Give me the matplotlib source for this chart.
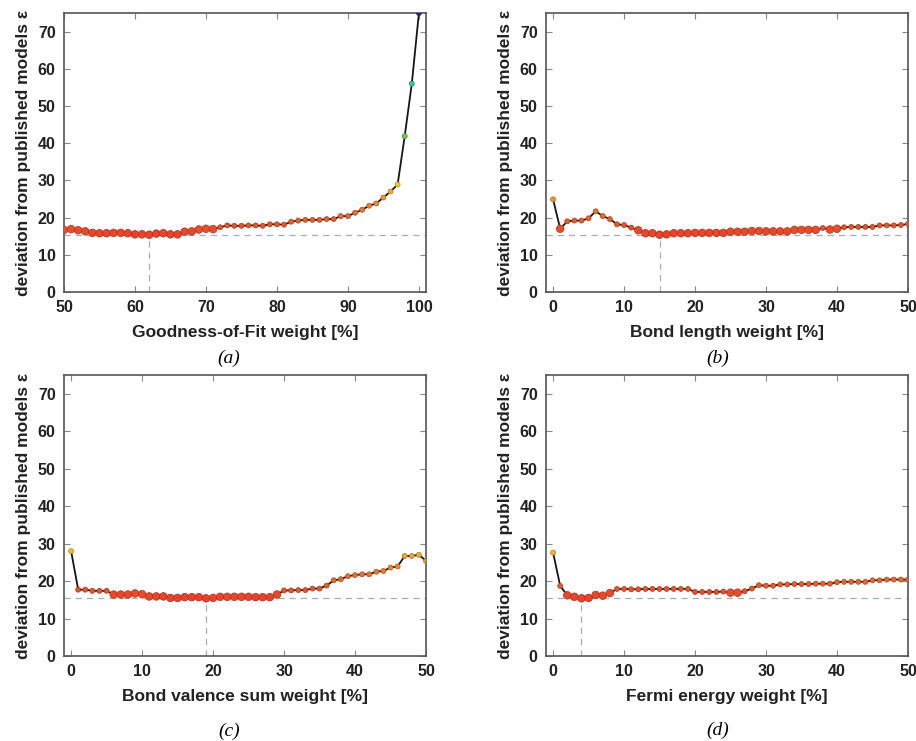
import numpy as np
import matplotlib
matplotlib.use("Agg")
import matplotlib.pyplot as plt
from matplotlib.colors import LinearSegmentedColormap, Normalize

# Weights [%] for each panel
gof_x = list(range(50, 101))
bond_x = list(range(0, 51))
bvs_x = list(range(0, 51))
fermi_x = list(range(0, 51))

# Deviation from published models
gof_y = [
    16.7, 16.9, 16.6, 16.3, 15.9, 15.8, 15.8, 15.9, 15.9, 15.8,
    15.5, 15.5, 15.4, 15.7, 15.8, 15.5, 15.5, 16.2, 16.3, 16.8,
    17.0, 16.9, 17.4, 17.9, 17.8, 17.8, 17.9, 17.9, 17.8, 18.2,
    18.2, 18.1, 18.9, 19.2, 19.4, 19.4, 19.4, 19.6, 19.6, 20.4,
    20.4, 21.3, 22.1, 23.2, 23.8, 25.4, 27.0, 28.9, 41.9, 56.0,
    75.0,
]
bond_y = [
    24.9, 17.0, 19.0, 19.2, 19.2, 19.8, 21.7, 20.4, 19.6, 18.2,
    18.0, 17.3, 16.6, 15.8, 15.8, 15.4, 15.5, 15.8, 15.8, 15.8,
    15.9, 15.9, 15.9, 15.9, 15.9, 16.2, 16.2, 16.2, 16.4, 16.4,
    16.3, 16.3, 16.3, 16.3, 16.7, 16.7, 16.7, 16.7, 17.2, 16.8,
    17.0, 17.4, 17.5, 17.5, 17.5, 17.5, 17.9, 17.9, 17.9, 18.0,
    18.3,
]
bvs_y = [
    28.0, 17.7, 17.7, 17.4, 17.4, 17.4, 16.4, 16.4, 16.4, 16.7,
    16.5, 15.9, 15.9, 15.9, 15.5, 15.5, 15.7, 15.7, 15.7, 15.4,
    15.5, 15.8, 15.8, 15.8, 15.8, 15.8, 15.7, 15.7, 15.7, 16.4,
    17.5, 17.5, 17.6, 17.6, 18.0, 18.0, 18.8, 20.2, 20.5, 21.3,
    21.6, 21.8, 21.8, 22.5, 22.7, 23.6, 23.9, 26.7, 26.7, 27.0,
    25.4,
]
fermi_y = [
    27.6, 18.7, 16.2, 15.8, 15.4, 15.5, 16.3, 16.1, 16.8, 17.9,
    17.9, 17.8, 17.8, 17.9, 17.9, 17.9, 17.9, 17.9, 17.9, 17.9,
    17.1, 17.1, 17.1, 17.1, 17.2, 16.9, 16.9, 17.3, 18.0, 18.9,
    18.75, 18.75, 19.1, 19.1, 19.2, 19.2, 19.2, 19.3, 19.3, 19.3,
    19.7, 19.8, 19.8, 19.8, 19.8, 20.2, 20.2, 20.4, 20.4, 20.4,
    20.4,
]

xlabels = [
    "Goodness-of-Fit weight [%]",
    "Bond length weight [%]",
    "Bond valence sum weight [%]",
    "Fermi energy weight [%]",
]
captions = ["a", "b", "c", "d"]

# Marker colour scale: red (low) -> orange -> yellow -> green -> teal -> blue (high)
cmap = LinearSegmentedColormap.from_list("dev", [
    (0.0, "#e8402a"),
    (0.10, "#ea6a2c"),
    (0.18, "#ef9a30"),
    (0.23, "#f3c82c"),
    (0.45, "#6cc84a"),
    (0.68, "#2fc8a6"),
    (1.0, "#25237e"),
])
norm = Normalize(15, 75)

fig = plt.figure(figsize=(9.16, 7.41), dpi=100)

# axes boxes in pixels: left, top, right, bottom
boxes = [
    (64, 13, 426, 292),
    (546, 13, 908, 292),
    (64, 375, 426, 656),
    (546, 375, 908, 656),
]
W, H = 916, 741

panels = [
    (gof_x, gof_y, (50, 101), [50, 60, 70, 80, 90, 100]),
    (bond_x, bond_y, (-1, 50), [0, 10, 20, 30, 40, 50]),
    (bvs_x, bvs_y, (-1, 50), [0, 10, 20, 30, 40, 50]),
    (fermi_x, fermi_y, (-1, 50), [0, 10, 20, 30, 40, 50]),
]

caption_pos = [(229, 358), (718, 358), (229, 731), (718, 730)]

for i, (xs, ys, xlim, xticks) in enumerate(panels):
    l, t, r, b = boxes[i]
    ax = fig.add_axes([l / W, 1 - b / H, (r - l) / W, (b - t) / H])

    xs = np.array(xs)
    ys = np.array(ys)
    imin = int(np.argmin(ys))

    # reference lines at the minimum
    ax.axhline(ys[imin], color="#a3aeb8", lw=0.9, ls=(0, (5, 4)), zorder=1)
    ax.plot([xs[imin], xs[imin]], [0, ys[imin]], color="#a3aeb8",
            lw=0.9, ls=(0, (5, 4)), zorder=1)

    ax.plot(xs, ys, color="#151515", lw=1.3, zorder=2)

    fill = cmap(norm(ys))
    edge = fill.copy()
    edge[:, :3] *= 0.72
    sizes = np.where(ys < 17.05, 30, 13)
    ax.scatter(xs, ys, s=sizes, c=fill, edgecolors=edge,
               linewidths=0.5, zorder=3)

    ax.set_xlim(xlim)
    ax.set_ylim(0, 75)
    ax.set_xticks(xticks)
    ax.set_yticks(range(0, 80, 10))

    ax.tick_params(direction="in", length=4, width=0.8, color="#888888",
                   top=True, right=True, labelsize=11.5, labelcolor="#222222",
                   pad=6)
    for lab in ax.get_xticklabels() + ax.get_yticklabels():
        lab.set_fontweight("bold")
        lab.set_family("Liberation Sans")
    for s in ax.spines.values():
        s.set_color("#555555")
        s.set_linewidth(1.2)

    ax.set_xlabel(xlabels[i], fontsize=12.5, fontweight="bold",
                  family="Liberation Sans", color="#222222", labelpad=7)
    ax.set_ylabel("deviation from published models ε", fontsize=12.5,
                  fontweight="bold", family="Liberation Sans",
                  color="#222222", labelpad=5)

    cx, cy = caption_pos[i]
    fig.text(cx / W, 1 - cy / H, "(" + captions[i] + ")", ha="center",
             va="center", fontsize=14, style="italic",
             family="Liberation Serif")

fig.savefig("out.png", dpi=100)
